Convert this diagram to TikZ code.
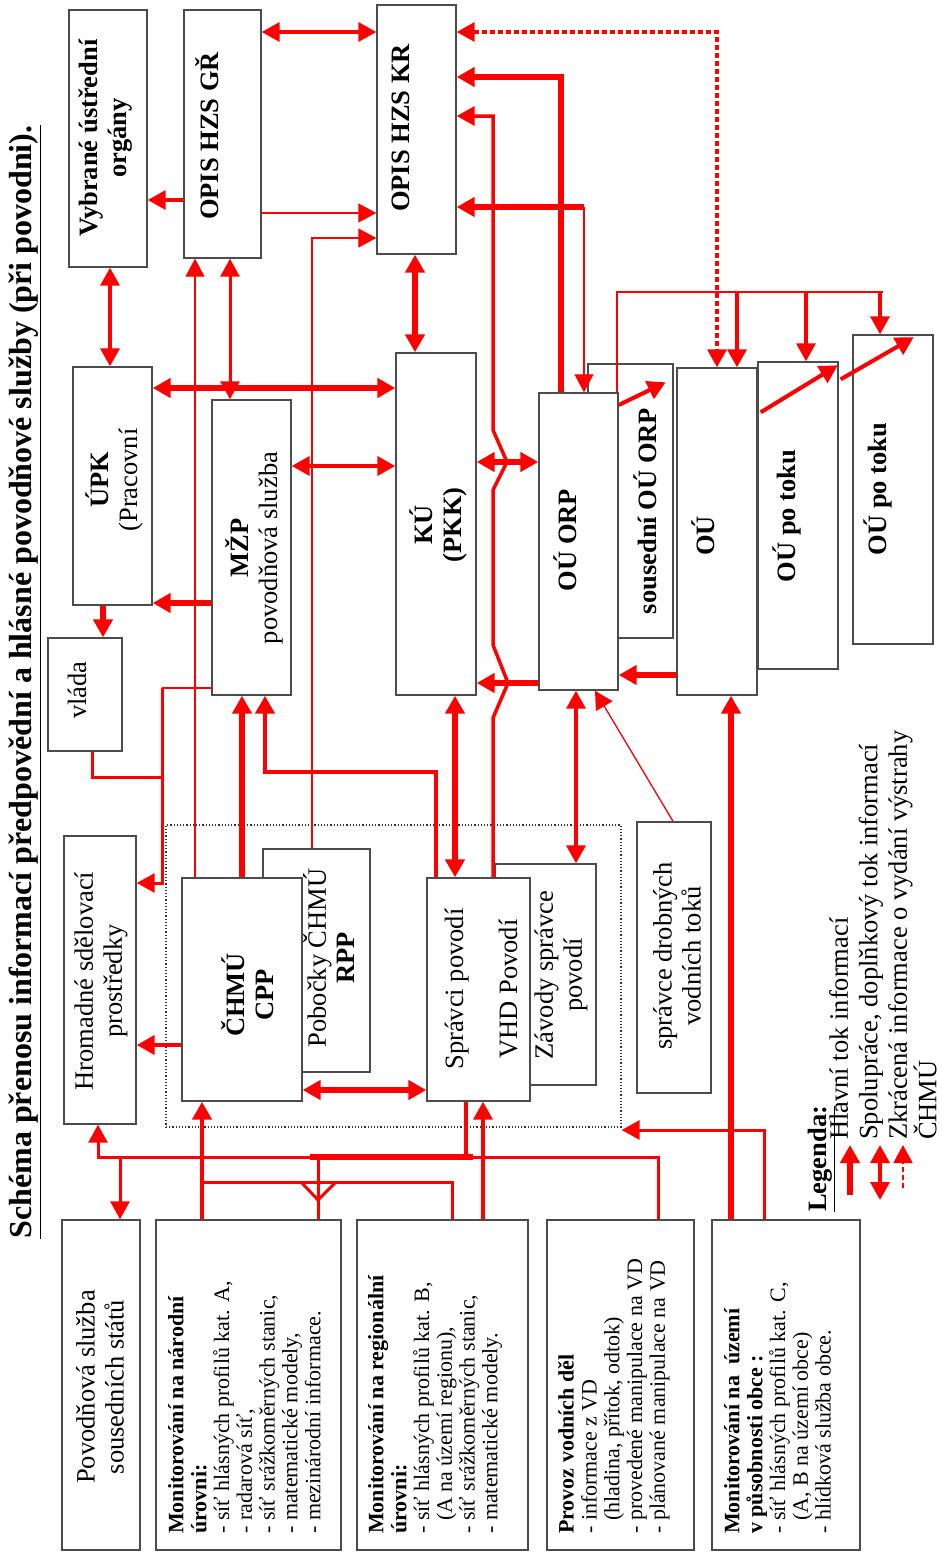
\documentclass[tikz,border=0pt]{standalone}
\usepackage{fontspec}
\setmainfont{Liberation Serif}
\usetikzlibrary{arrows.meta,fit}

\begin{document}
\begin{tikzpicture}[x=1pt,y=-1pt,line join=miter,
  >={Triangle[length=18pt,width=19pt]},
  box/.style={draw=black!70,line width=1.4pt,fill=white,inner sep=0pt},
  txtb/.style={rotate=90,align=center,inner sep=0pt,font=\fontsize{26.5}{29}\selectfont\bfseries},
  txtn/.style={rotate=90,align=center,inner sep=0pt,font=\fontsize{26.5}{29}\selectfont},
  txtl/.style={rotate=90,align=left,anchor=north west,inner sep=0pt,font=\fontsize{22}{22.8}\selectfont},
  mainflow/.style={red,line width=6pt},
  midflow/.style={red,line width=3.5pt},
  thinflow/.style={red,line width=1.3pt},
  shortflow/.style={red,line width=3.5pt,dash pattern=on 5pt off 3pt}]

\useasboundingbox (0,0) rectangle (942,1553);
\fill[white] (0,0) rectangle (942,1553);

\node[rotate=90,inner sep=0pt,font=\fontsize{32}{36}\selectfont\bfseries] (title) at (25,682)
  {\underline{Schéma přenosu informací předpovědní a hlásné povodňové služby (při povodni).}};

% oblast povodi (teckovane)
\node[fit={(166,825) (621,1127)},inner sep=0pt,draw=black!80,line width=1.2pt,dash pattern=on 1.2pt off 2pt] (region) {};

% horni rada
\node[box,fit={(69,10) (147,267)}] (vybr) {};
\node[box,fit={(184,10) (261,258)}] (opisgr) {};
\node[box,fit={(377,5) (456,254)}] (opiskr) {};

% stredni rada
\node[box,fit={(73,367) (152,605)}] (upk) {};
\node[box,fit={(48,638) (122,751)}] (vlada) {};
\node[box,fit={(212,400) (291,695)}] (mzp) {};
\node[box,fit={(396,353) (476,695)}] (ku) {};
\node[box,fit={(588,364) (673,638)}] (sousorp) {};
\node[box,fit={(539,393) (618,690)}] (ouorp) {};
\node[box,fit={(677,368) (757,695)}] (ou) {};
\node[box,fit={(758,362) (838,669)}] (potoku1) {};
\node[box,fit={(853,335) (933,644)}] (potoku2) {};

% dolni cast
\node[box,fit={(64,836) (136,1124)}] (media) {};
\node[box,fit={(263,849) (370,1072)}] (pobocky) {};
\node[box,fit={(182,878) (302,1101)}] (chmu) {};
\node[box,fit={(495,864) (596,1085)}] (zavody) {};
\node[box,fit={(427,878) (530,1101)}] (spravci) {};
\node[box,fit={(637,822) (711,1093)}] (drobne) {};

\node[box,fit={(62,1220) (140,1550)}] (sousstaty) {};
\node[box,fit={(156,1220) (341,1550)}] (monnar) {};
\node[box,fit={(357,1220) (528,1550)}] (monreg) {};
\node[box,fit={(547,1220) (694,1550)}] (provoz) {};
\node[box,fit={(712,1220) (860,1550)}] (monobec) {};

% texty
\node[txtb] (vybr-t) at (106,138) {Vybrané ústřední\\orgány};
\node[txtb] (opisgr-t) at (207,136) {OPIS HZS GŘ};
\node[txtb] (opiskr-t) at (401,128) {OPIS HZS KR};
\node[txtn] (upk-t) at (114,480) {\textbf{ÚPK}\\(Pracovní};
\node[txtn] (mzp-t) at (254,548) {\textbf{MŽP}\\povodňová služba};
\node[txtn] (vlada-t) at (77,690) {vláda};
\node[txtb] (ku-t) at (438,525) {KÚ\\(PKK)};
\node[txtb] (sousorp-t) at (645,511) {sousední OÚ ORP};
\node[txtb] (ouorp-t) at (565,540) {OÚ ORP};
\node[txtb] (ou-t) at (703,536) {OÚ};
\node[txtb] (potoku1-t) at (787,516) {OÚ po toku};
\node[txtb] (potoku2-t) at (878,489) {OÚ po toku};
\node[txtn] (media-t) at (101,981) {Hromadné sdělovací\\prostředky};
\node[txtn] (pobocky-t) at (329,958) {Pobočky ČHMÚ\\\textbf{RPP}};
\node[txtb] (chmu-t) at (248,995) {ČHMÚ\\CPP};
\node[txtn] (zavody-t) at (561,975) {Závody správce\\povodí};
\node[txtn] (spravci-t) at (481,989) {Správci povodí\\[25pt]VHD Povodí};
\node[txtn] (drobne-t) at (677,956) {správce drobných\\vodních toků};
\node[txtn] (sousstaty-t) at (100,1387) {Povodňová služba\\sousedních států};

\node[txtl] (monnar-t) at (168,1534) {\textbf{Monitorování na národní}\\\textbf{úrovni:}\\- síť hlásných profilů kat. A,\\- radarová síť,\\- síť srážkoměrných stanic,\\- matematické modely,\\- mezinárodní informace.};
\node[txtl] (monreg-t) at (368,1534) {\textbf{Monitorování na regionální}\\\textbf{úrovni:}\\- síť hlásných profilů kat. B,\\\phantom{- }(A na území regionu),\\- síť srážkoměrných stanic,\\- matematické modely.};
\node[txtl] (provoz-t) at (558,1534) {\textbf{Provoz vodních děl}\\- informace z VD\\\phantom{- }(hladina, přítok, odtok)\\- provedené manipulace na VD\\- plánované manipulace na VD};
\node[txtl] (monobec-t) at (724,1534) {\textbf{Monitorování na\ \ území}\\\textbf{v působnosti obce :}\\- síť hlásných profilů kat. C,\\\phantom{- }(A, B na území obce)\\- hlídková služba obce.};

% toky informaci - horni cast
\draw[midflow,<->] (opisgr.east|-0,32) -- (opiskr.west|-0,32);
\draw[shortflow,<->] (opiskr.east|-0,32) -| (ou.north-|717,0);
\draw[mainflow,->] (ouorp.north-|561,0) |- (opiskr.east|-0,77);
\draw[midflow,->] (spravci.north-|493,0) -- (493,718) -- (508,683) -- (493,645) -- (493,490)
  -- (507,462) -- (493,430) |- (opiskr.east|-0,116);
\coordinate (kr-in) at (584,207);
\draw[mainflow,->] (kr-in) -- (opiskr.east|-kr-in);
\draw[thinflow,->] (kr-in) -- (ouorp.north-|kr-in);
\draw[thinflow,->] (opisgr.east|-0,213) -- (opiskr.west|-0,213);
\draw[thinflow,->] (pobocky.north-|312,0) |- (opiskr.west|-0,238);
\draw[midflow,->] (opisgr.west|-0,200) -- (vybr.east|-0,200);
\draw[midflow,<->] (vybr.south-|110,0) -- (upk.north-|110,0);
\draw[thinflow,->] (chmu.north-|195,0) -- (opisgr.south-|195,0);
\draw[midflow,line width=3pt,<->] (mzp.north-|230,0) -- (opisgr.south-|230,0);
\draw[mainflow,<->] (opiskr.south-|415,0) -- (ku.north-|415,0);

% stredni cast
\draw[mainflow,<->] (upk.east|-0,388) -- (ku.west|-0,388);
\draw[midflow,line width=4pt,<->] (mzp.east|-0,466) -- (ku.west|-0,466);
\draw[mainflow,->] (mzp.west|-0,603) -- (upk.east|-0,603);
\draw[mainflow,->] (upk.south-|103,0) -- (vlada.north-|103,0);
\coordinate (j-media) at (162,688);
\draw[thinflow] (mzp.west|-j-media) -- (j-media);
\draw[midflow,line width=3pt] (vlada.south-|92,0) |- (j-media|-0,777);
\draw[midflow,line width=3pt,->] (j-media) |- (media.east|-0,883);
\draw[mainflow,<->] (ku.east|-0,462) -- (ouorp.west|-0,462);
\draw[mainflow,->] (ouorp.west|-0,683) -- (ku.east|-0,683);
\draw[mainflow,->] (ou.west|-0,675) -- (ouorp.east|-0,675);
\coordinate (orp-bus) at (617,292);
\draw[red,line width=2pt] (ouorp.north-|orp-bus) -- (orp-bus) -- (883,292);
\foreach \xx/\tgt in {737/ou,806/potoku1,880/potoku2}
  \draw[midflow,->] (\xx,292) -- (\tgt.north-|\xx,0);
\draw[midflow,line width=4pt,->] (ouorp.east|-0,405) -- ([shift={(-8,19)}]sousorp.north east);
\draw[midflow,line width=4pt,->] ([shift={(3,45)}]ou.north east) -- ([shift={(-1,4)}]potoku1.north east);
\draw[midflow,line width=4pt,->] ([shift={(2,18)}]potoku1.north east) -- ([shift={(-20,3)}]potoku2.north east);

% dolni cast
\draw[mainflow,->] (chmu.north-|242,0) -- (mzp.south-|242,0);
\draw[midflow,line width=4.5pt,->] (spravci.north-|436,0) |- (265,772) -- (mzp.south-|265,0);
\draw[mainflow,<->] (ku.south-|455,0) -- (spravci.north-|455,0);
\draw[midflow,<->] (ouorp.south-|576,0) -- (zavody.north-|576,0);
\draw[thinflow,->] (drobne.north-|673,0) -- (ouorp.south-|595,0);
\draw[midflow,line width=4pt,->] (chmu.west|-0,1045) -- (media.east|-0,1045);
\draw[mainflow,<->] (chmu.east|-0,1090) -- (spravci.west|-0,1090);

% monitorovani
\draw[midflow,line width=3pt,->] (provoz.north-|658,0) |- (98,1157) -- (media.south-|98,0);
\draw[midflow,line width=3pt,->] (120,1157) -- (sousstaty.north-|120,0);
\draw[mainflow] (310,1157) -- (473,1157);
\draw[midflow] (spravci.south-|466,0) -- (466,1157);
\draw[midflow,line width=3pt] (monnar.north-|318,0) -- (318,1157);
\draw[midflow,line width=3pt] (302,1183) -- (318,1200) -- (335,1183);
\draw[midflow,line width=3pt] (202,1182) -| (monreg.north-|452,0);
\draw[midflow,line width=4.5pt,->] (monnar.north-|202,0) -- (chmu.south-|202,0);
\draw[midflow,->] (monreg.north-|483,0) -- (spravci.south-|483,0);
\draw[mainflow,->] (monobec.north-|731,0) -- (ou.south-|731,0);
\draw[midflow,line width=3pt,->] (monobec.north-|764,0) |- (region.east|-0,1130);

% legenda
\node[rotate=90,anchor=north west,inner sep=0pt,font=\fontsize{26.5}{29}\selectfont\bfseries] (legend-h) at (808,1212) {\underline{Legenda:}};
\node[rotate=90,anchor=north west,inner sep=0pt,align=left,font=\fontsize{26.5}{29.5}\selectfont] (legend-t) at (829,1140)
  {Hlavní tok informací\\Spolupráce, doplňkový tok informací\\Zkrácená informace o vydání výstrahy\\ČHMÚ};
\draw[mainflow,->] (850,1195) -- (850,1145);
\draw[midflow,<->] (880,1200) -- (880,1145);
\draw[shortflow,line width=2pt,->] (903,1188) -- (903,1145);

\end{tikzpicture}
\end{document}
